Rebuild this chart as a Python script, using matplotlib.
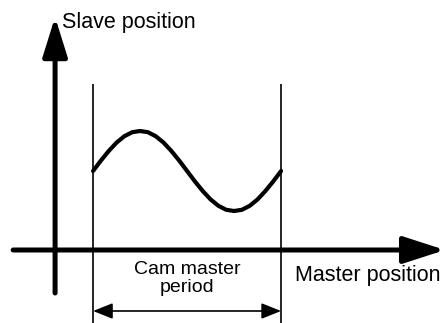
import matplotlib
matplotlib.use("Agg")
import matplotlib.pyplot as plt

# One cam master period, sampled in 1/24 steps of the period
master_phase = [i / 24 for i in range(25)]
slave_position = [0.00, 0.26, 0.50, 0.71, 0.87, 0.97, 1.00, 0.97, 0.87, 0.71,
                  0.50, 0.26, 0.00, -0.26, -0.50, -0.71, -0.87, -0.97, -1.00,
                  -0.97, -0.87, -0.71, -0.50, -0.26, 0.00]

label_slave = "Slave position"
label_master = "Master position"
label_period = "Cam master\nperiod"

plt.rcParams["font.family"] = ["Liberation Sans", "DejaVu Sans"]

fig = plt.figure(figsize=(4.45, 3.23), dpi=100)
ax = fig.add_axes([0, 0, 1, 1])
ax.set_xlim(-0.495, 1.872)
ax.set_ylim(-3.8, 4.275)
ax.axis("off")

x_axis_y = -1.975     # level of the master axis
y_axis_x = -0.202     # position of the slave axis

# master axis with arrow
ax.annotate("", xy=(1.872, x_axis_y), xytext=(-0.425, x_axis_y),
            arrowprops=dict(arrowstyle="-|>,head_length=1.7,head_width=0.55",
                            mutation_scale=15, lw=3.6, color="black",
                            shrinkA=0, shrinkB=0))
# slave axis with arrow
ax.annotate("", xy=(y_axis_x, 3.85), xytext=(y_axis_x, -3.05),
            arrowprops=dict(arrowstyle="-|>,head_length=1.6,head_width=0.5",
                            mutation_scale=15, lw=3.6, color="black",
                            shrinkA=0, shrinkB=0))

# period boundaries
for xb in (master_phase[0], master_phase[-1]):
    ax.plot([xb, xb], [-3.8, 2.175], color="black", lw=1.2, solid_capstyle="butt")

# cam profile
ax.plot(master_phase, slave_position, color="black", lw=3.0,
        solid_capstyle="round", solid_joinstyle="round")

# period dimension arrow
ax.annotate("", xy=(master_phase[-1], -3.5), xytext=(master_phase[0], -3.5),
            arrowprops=dict(arrowstyle="<|-|>,head_length=1.0,head_width=0.4",
                            mutation_scale=12, lw=1.2, color="black",
                            shrinkA=0, shrinkB=0))

ax.text(-0.165, 3.7, label_slave, fontsize=15.5, ha="left", va="center")
ax.text(1.075, -2.6, label_master, fontsize=15.5, ha="left", va="center")
ax.text(0.5, -2.68, label_period, fontsize=14, ha="center", va="center",
        linespacing=1.05)

fig.savefig("out.png", dpi=100)
